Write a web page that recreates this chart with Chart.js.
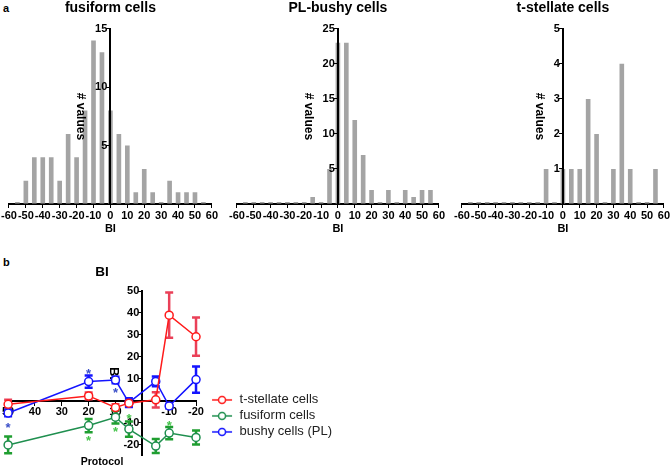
<!DOCTYPE html>
<html>
<head>
<meta charset="utf-8">
<script src="https://cdn.jsdelivr.net/npm/chart.js@4.4.0/dist/chart.umd.min.js"></script>
<style>
  html, body { margin: 0; padding: 0; width: 671px; height: 467px; overflow: hidden; background: #fff; }
  canvas { position: absolute; }
  .tag { position: absolute; font: bold 11px "Liberation Sans", Arial, sans-serif; line-height: 11px; }
</style>
</head>
<body>
<div class="tag" style="left:3px;top:3px">a</div>
<div class="tag" style="left:3px;top:257px">b</div>
<canvas id="fusiform" width="221" height="234" style="left:-1px;top:0"></canvas>
<canvas id="bushy" width="220" height="234" style="left:227px;top:0"></canvas>
<canvas id="stellate" width="220" height="234" style="left:452px;top:0"></canvas>
<canvas id="protocol" width="342" height="204" style="left:0;top:264px"></canvas>
<script>
// histogram bins (BI) and counts
const bins = [-55, -50, -45, -40, -35, -30, -25, -20, -15, -10, -5, 0, 5, 10, 15, 20, 25, 30, 35, 40, 45, 50, 55];
const fusiformCounts = [0, 2, 4, 4, 4, 2, 6, 4, 8, 14, 13, 8, 6, 5, 1, 3, 1, 0, 2, 1, 1, 1, 0];
const bushyCounts = [0, 0, 0, 0, 0, 0, 0, 0, 1, 0, 5, 23, 23, 12, 7, 2, 0, 2, 0, 2, 1, 2, 2];
const stellateCounts = [0, 0, 0, 0, 0, 0, 0, 0, 0, 1, 0, 1, 1, 1, 3, 2, 0, 1, 4, 1, 0, 0, 1];

// panel b: BI vs protocol
const protocolSteps = [50, 20, 10, 5, -5, -10, -20];
const stellateBI = [-1.5, 2.3, -3, -1, 0.5, 39, 29.2];
const stellateSem = [2, 1.5, 1.5, 1.5, 3.5, 10.3, 8.7];
const fusiformBI = [-20, -11.2, -7.4, -12.8, -20.5, -14.6, -16.6];
const fusiformSem = [3.8, 3, 2.9, 3.5, 3.2, 2.8, 3.2];
const bushyBI = [-5.5, 8.8, 9.5, -0.8, 8.9, -2.3, 9.7];
const bushySem = [1.5, 2.8, 1.5, 2, 2.2, 1, 6];
const bushyStars = [[50, -10.5], [20, 13.8], [10, 5]];
const fusiformStars = [[20, -16.8], [10, -12.5], [5, -6.6], [-10, -9.7]];

Chart.defaults.font.family = '"Liberation Sans", Arial, sans-serif';
Chart.defaults.color = "#000";
Chart.defaults.animation = false;

const tickFont = { size: 11, weight: "bold", lineHeight: 1 };
// y labels sit right against an axis placed at a value, so keep a space before the tick mark
const yLabel = (v) => (v === 0 ? "" : v + " ");

function histogram(id, title, counts, yMax, yStep) {
  new Chart(document.getElementById(id), {
    type: "bar",
    data: {
      datasets: [
        {
          data: bins.map((b, i) => ({ x: b, y: counts[i] })),
          backgroundColor: "#a4a4a4",
          barPercentage: 0.55,
          categoryPercentage: 1,
          minBarLength: 2,
        },
      ],
    },
    options: {
      responsive: false,
      layout: { padding: 0 },
      plugins: {
        legend: { display: false },
        tooltip: { enabled: false },
        title: {
          display: true,
          text: title,
          fullSize: false,
          font: { size: 14, weight: "bold" },
          padding: { top: 0, bottom: 12 },
        },
      },
      scales: {
        x: {
          type: "linear",
          min: -60,
          max: 60,
          offset: false,
          ticks: { stepSize: 10, autoSkip: false, maxRotation: 0, padding: 2, font: tickFont },
          grid: { offset: false, drawOnChartArea: false, tickLength: 4, color: "#000" },
          border: { color: "#000", width: 2 },
          title: { display: true, text: "BI", font: { size: 11, weight: "bold", lineHeight: 1 }, padding: 0 },
        },
        y: {
          position: { x: 0 },
          min: 0,
          max: yMax,
          ticks: { stepSize: yStep, padding: 1, z: 1, font: tickFont, callback: yLabel },
          grid: { drawOnChartArea: false, tickLength: 3, color: "#000", z: 1 },
          border: { color: "#000", width: 2, z: 1 },
          title: { display: true, text: "# values", font: { size: 12, weight: "bold" }, padding: { top: 2.6, bottom: 0 } },
        },
      },
    },
  });
}

histogram("fusiform", "fusiform cells", fusiformCounts, 15, 5);
histogram("bushy", "PL-bushy cells", bushyCounts, 25, 5);
histogram("stellate", "t-stellate cells", stellateCounts, 5, 1);

// legend symbol: short line with open circle
function legendSymbol(color) {
  const c = document.createElement("canvas");
  c.width = 34;
  c.height = 10;
  const g = c.getContext("2d");
  g.strokeStyle = color;
  g.lineWidth = 1.5;
  g.beginPath();
  g.moveTo(13, 5);
  g.lineTo(33, 5);
  g.stroke();
  g.beginPath();
  g.arc(23, 5, 3.5, 0, Math.PI * 2);
  g.fillStyle = "#fff";
  g.fill();
  g.stroke();
  return c;
}

const errorBars = {
  id: "errorBars",
  beforeDatasetsDraw(chart) {
    const { ctx, scales } = chart;
    chart.data.datasets.forEach((ds) => {
      ctx.save();
      ctx.strokeStyle = ds.errorColor;
      ctx.lineWidth = 2.5;
      ds.data.forEach((p, j) => {
        const px = scales.x.getPixelForValue(p.x);
        const top = scales.y.getPixelForValue(p.y + ds.sem[j]);
        const bot = scales.y.getPixelForValue(p.y - ds.sem[j]);
        ctx.beginPath();
        ctx.moveTo(px, top);
        ctx.lineTo(px, bot);
        ctx.moveTo(px - 4, top);
        ctx.lineTo(px + 4, top);
        ctx.moveTo(px - 4, bot);
        ctx.lineTo(px + 4, bot);
        ctx.stroke();
      });
      ctx.restore();
    });
  },
};

const stars = {
  id: "stars",
  afterDatasetsDraw(chart) {
    const { ctx, scales } = chart;
    const sets = [
      [bushyStars, "#3a4fc8"],
      [fusiformStars, "#44c44a"],
    ];
    ctx.save();
    ctx.font = 'bold 13px "Liberation Sans", Arial, sans-serif';
    ctx.textAlign = "center";
    ctx.textBaseline = "alphabetic";
    sets.forEach(([pts, color]) => {
      ctx.fillStyle = color;
      pts.forEach(([x, y]) => {
        ctx.fillText("*", scales.x.getPixelForValue(x), scales.y.getPixelForValue(y) + 7.5);
      });
    });
    ctx.restore();
  },
};

function series(label, values, sem, color, errorColor) {
  return {
    label: label,
    data: protocolSteps.map((p, i) => ({ x: p, y: values[i] })),
    sem: sem,
    errorColor: errorColor,
    borderColor: color,
    borderWidth: 1.5,
    pointRadius: 4,
    pointBorderWidth: 1.5,
    pointBackgroundColor: "#fff",
    pointBorderColor: color,
    clip: false,
    tension: 0,
  };
}

new Chart(document.getElementById("protocol"), {
  type: "line",
  data: {
    datasets: [
      series("t-stellate cells", stellateBI, stellateSem, "#ff1a1a", "#ea4058"),
      series("fusiform cells", fusiformBI, fusiformSem, "#1f8f4f", "#1f9e30"),
      series("bushy cells (PL)", bushyBI, bushySem, "#1414ff", "#1414ff"),
    ],
  },
  plugins: [errorBars, stars],
  options: {
    responsive: false,
    layout: { padding: 0 },
    plugins: {
      tooltip: { enabled: false },
      title: {
        display: true,
        text: "BI",
        fullSize: false,
        font: { size: 13.5, weight: "bold" },
        padding: { top: 0, bottom: 10.8 },
      },
      subtitle: {
        display: true,
        text: "Protocol",
        position: "bottom",
        fullSize: false,
        color: "#000",
        font: { size: 10.5, weight: "bold", lineHeight: 1.15 },
        padding: 0,
      },
      legend: {
        position: "right",
        fullSize: false,
        align: "start",
        maxWidth: 300,
        title: { display: true, text: "", padding: { top: 85, bottom: 0 } },
        labels: {
          usePointStyle: true,
          pointStyleWidth: 34,
          padding: 3,
          font: { size: 13 },
          generateLabels: (chart) =>
            chart.data.datasets.map((ds, i) => ({
              text: ds.label,
              pointStyle: legendSymbol(ds.borderColor),
              fontColor: "#222",
              datasetIndex: i,
              hidden: false,
              lineWidth: 0,
              strokeStyle: "transparent",
              fillStyle: "transparent",
            })),
        },
      },
    },
    scales: {
      x: {
        type: "linear",
        position: { y: 0 },
        reverse: true,
        min: -20,
        max: 50,
        afterFit: (axis) => {
          axis.height = 0;
        },
        ticks: { stepSize: 10, autoSkip: false, maxRotation: 0, padding: 2, font: tickFont, callback: (v) => (v === 0 ? "" : v) },
        grid: { drawOnChartArea: false, tickLength: 4, color: "#000" },
        border: { color: "#000", width: 2 },
      },
      y: {
        position: { x: 0 },
        min: -25,
        max: 50,
        ticks: { stepSize: 10, includeBounds: false, padding: 1, font: tickFont, callback: yLabel },
        grid: { drawOnChartArea: false, tickLength: 3, color: "#000" },
        border: { color: "#000", width: 2 },
        title: { display: true, text: "BI", font: { size: 13, weight: "bold" }, padding: { top: -3, bottom: 0 } },
      },
    },
  },
});
</script>
</body>
</html>
